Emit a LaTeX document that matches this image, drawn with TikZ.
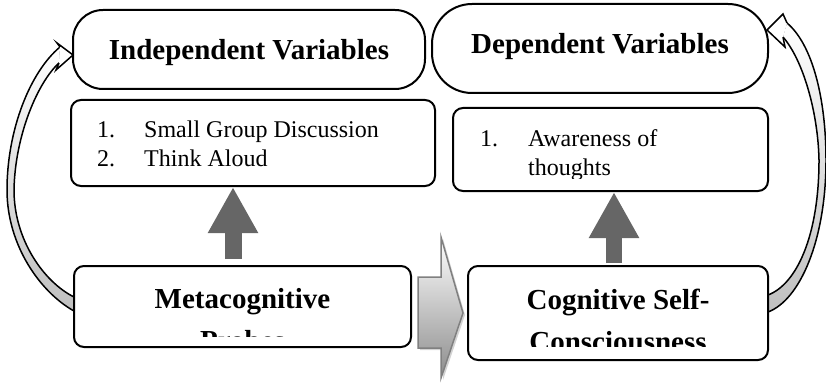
\documentclass[tikz,border=0pt]{standalone}
\usepackage{fontspec}
\setmainfont{Liberation Serif}
\usetikzlibrary{arrows.meta,shadows}

\begin{document}
\begin{tikzpicture}[x=1pt,y=-1pt,
    varbox/.style={draw,line width=2pt,fill=white,rounded corners=#1,inner sep=0pt},
    heading/.style={font=\fontsize{29}{34}\selectfont\bfseries,inner sep=0pt},
    item/.style={font=\fontsize{24}{28}\selectfont,inner sep=0pt,anchor=base west},
    uparrow/.style={line width=#1,black!60,-{Triangle[width=47pt,length=46pt]}},
    band/.style={draw,line width=1.5pt,top color=white,bottom color=black!25},
    bandhead/.style={draw,line width=1.5pt,fill=white,line join=miter},
    flowarrow/.style={draw=black!50,line width=1.5pt,top color=white,bottom color=black!45,
        drop shadow={shadow xshift=2pt,shadow yshift=-2pt,opacity=.35}}
  ]
  \useasboundingbox (0,0) rectangle (826,385);

  % loops on both sides (drawn first, boxes cover their ends)
  \coordinate (lefttip) at (73,55);
  \coordinate (righttip) at (767,30);
  \filldraw[band] (60,47) .. controls (30,72) and (7,130) .. (7,190)
    .. controls (7,245) and (40,292) .. (74,311) -- (74,297)
    .. controls (44,282) and (14,240) .. (14,190)
    .. controls (15,135) and (38,82) .. (59,63);
  \filldraw[bandhead] (60,47) -- (57,43) -- (lefttip) -- (56,70) -- (59,63);
  \filldraw[band] (787,23) .. controls (813,45) and (826,100) .. (826,160)
    .. controls (826,240) and (800,300) .. (768,312) -- (768,295)
    .. controls (797,284) and (819,235) .. (819,160)
    .. controls (818,112) and (803,60) .. (783,37);
  \filldraw[bandhead] (787,23) -- (783,14) -- (righttip) -- (785,47) -- (783,37);

  % boxes
  \node[varbox=30pt,heading,minimum width=352pt,minimum height=79pt,
        text height=20pt,text depth=0pt] (indep) at (249,49.5) {Independent Variables};
  \node[varbox=40pt,heading,minimum width=336pt,minimum height=89pt,
        text height=20pt,text depth=10pt] (dep) at (600,48.5) {Dependent Variables};
  \node[varbox=10pt,minimum width=364pt,minimum height=86pt] (list1) at (253,143) {};
  \node[varbox=10pt,minimum width=315pt,minimum height=83pt] (list2) at (610.5,149.5) {};
  \node[varbox=10pt,minimum width=337pt,minimum height=81pt] (meta) at (242.5,306.5) {};
  \node[varbox=10pt,minimum width=300pt,minimum height=94pt] (cog) at (618,313) {};

  % texts
  \node[item] (n1) at (97,137) {1.};
  \node[item] (t1) at (144,137) {Small Group Discussion};
  \node[item] (n2) at (97,166) {2.};
  \node[item] (t2) at (144,166) {Think Aloud};
  \begin{scope}
    \clip (list2.north west) rectangle ([yshift=14pt]list2.south east);
    \node[item] (n3) at (480,146) {1.};
    \node[item] (t3) at (528,146) {Awareness of};
    \node[item] (t4) at (528,175) {thoughts};
  \end{scope}
  \begin{scope}
    \clip (meta.north west) rectangle ([yshift=12pt]meta.south east);
    \node[heading,anchor=base] (metaA) at (242.5,308) {Metacognitive};
    \node[heading,anchor=base] (metaB) at (242.5,350) {Probes};
  \end{scope}
  \begin{scope}
    \clip (cog.north west) rectangle ([yshift=15pt]cog.south east);
    \node[heading,anchor=base] (cogA) at (618,309) {Cognitive Self-};
    \node[heading,anchor=base] (cogB) at (618,351) {Consciousness};
  \end{scope}

  % arrows
  \draw[uparrow=17pt] ([xshift=-9.5pt,yshift=6pt]meta.north) -- ([xshift=-9.5pt]meta.north |- list1.south);
  \draw[uparrow=16pt] ([xshift=-4pt,yshift=2pt]cog.north) -- ([xshift=-4pt]cog.north |- list2.south);
  \filldraw[flowarrow] (418,277) -- (441,277) -- (441,237) -- (463,313)
    -- (441,378) -- (441,348) -- (418,348) -- cycle;
\end{tikzpicture}
\end{document}
